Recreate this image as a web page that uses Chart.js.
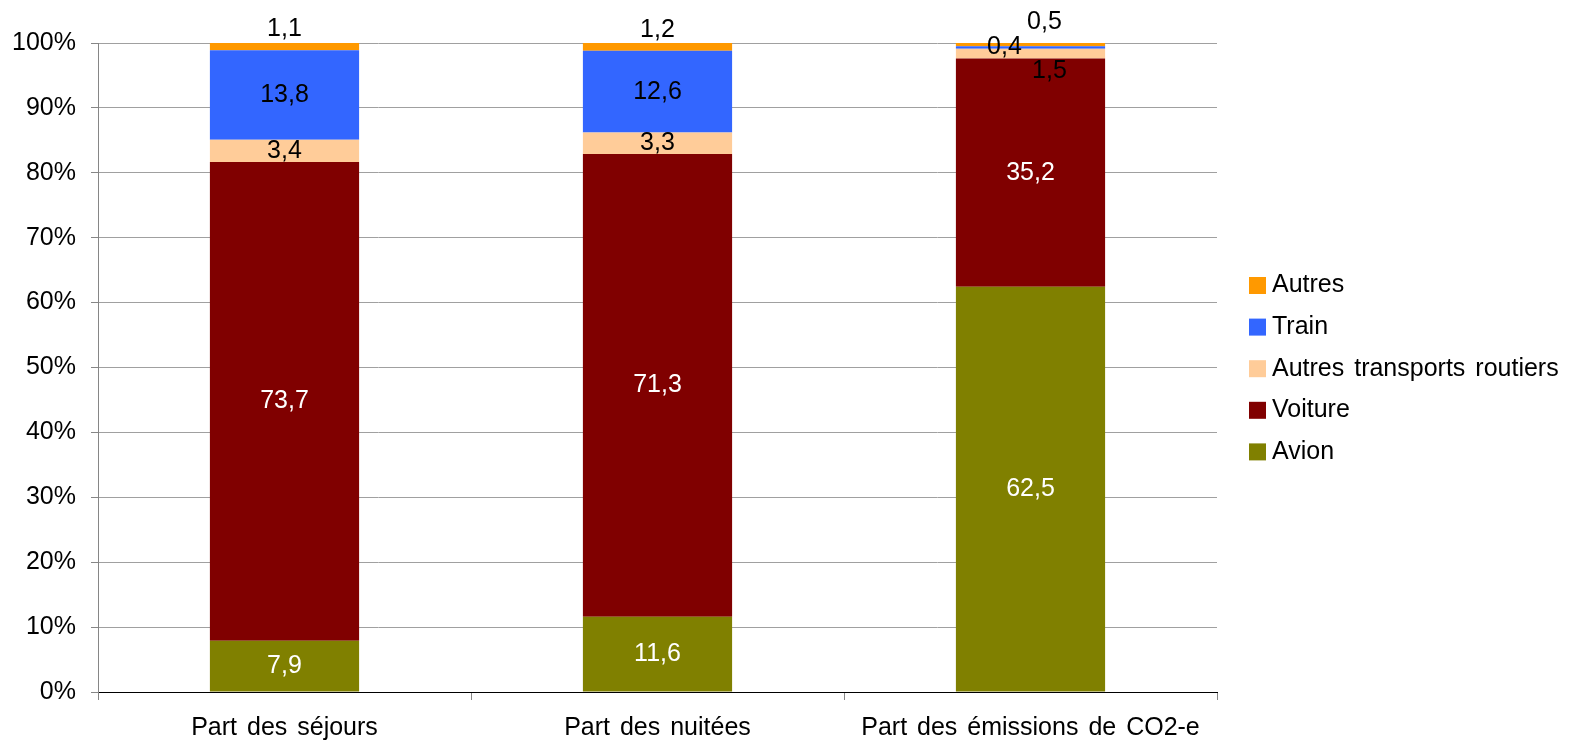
<!DOCTYPE html>
<html lang="fr">
<head>
<meta charset="utf-8">
<title>Répartition modale des séjours, nuitées et émissions</title>
<script src="https://cdn.jsdelivr.net/npm/chart.js@4/dist/chart.umd.min.js"></script>
<style>
  html, body { margin: 0; padding: 0; background: #ffffff; }
  #wrap { width: 1576px; height: 743px; }
</style>
</head>
<body>
<div id="wrap"><canvas id="chart" width="1576" height="743"></canvas></div>
<script>
// Categories and shares (%) per transport mode
const categories = ['Part des séjours', 'Part des nuitées', 'Part des émissions de CO2-e'];
const avion     = [7.9, 11.6, 62.5];
const voiture   = [73.7, 71.3, 35.2];
const autresRoutiers = [3.4, 3.3, 1.5];
const train     = [13.8, 12.6, 0.4];
const autres    = [1.1, 1.2, 0.5];
const yTicks    = [0, 10, 20, 30, 40, 50, 60, 70, 80, 90, 100];

const FONT = '"Liberation Sans", Arial, sans-serif';
const FONT_SIZE = 25;

// Each column is shown as a 100 % stack, so shares are rescaled by their column total
const series = [
  { label: 'Avion', values: avion, color: '#808000', text: '#ffffff' },
  { label: 'Voiture', values: voiture, color: '#800000', text: '#ffffff' },
  { label: 'Autres transports routiers', values: autresRoutiers, color: '#FFCC99', text: '#000000' },
  { label: 'Train', values: train, color: '#3366FF', text: '#000000' },
  { label: 'Autres', values: autres, color: '#FF9900', text: '#000000' }
];
const totals = categories.map((_, i) => series.reduce((s, d) => s + d.values[i], 0));

// Label nudges (px) for the thin segments whose values would otherwise overlap
const labelShift = {
  'Autres': [[0, -17], [0, -17], [14, -23]],
  'Train': [null, null, [-26, 0]],
  'Autres transports routiers': [null, null, [19, 17]]
};

// Slightly wider gaps between words for all canvas text
const textSpacing = {
  id: 'textSpacing',
  beforeDraw(chart) {
    chart.ctx.wordSpacing = '3px';
  }
};

const valueLabels = {
  id: 'valueLabels',
  afterDatasetsDraw(chart) {
    const ctx = chart.ctx;
    ctx.save();
    ctx.font = FONT_SIZE + 'px ' + FONT;
    ctx.textAlign = 'center';
    ctx.textBaseline = 'middle';
    chart.data.datasets.forEach((ds, di) => {
      const meta = chart.getDatasetMeta(di);
      meta.data.forEach((bar, i) => {
        const raw = ds.rawValues[i];
        const cy = (bar.y + bar.base) / 2;
        const shift = (labelShift[ds.label] && labelShift[ds.label][i]) || [0, 0];
        ctx.fillStyle = shift[1] === 0 && shift[0] === 0 ? ds.textColor : '#000000';
        ctx.fillText(raw.toFixed(1).replace('.', ','), bar.x + shift[0], cy + shift[1]);
      });
    });
    ctx.restore();
  }
};

// Legend drawn at the right, top entry = last stacked series
const sideLegend = {
  id: 'sideLegend',
  afterDraw(chart) {
    const ctx = chart.ctx;
    ctx.save();
    ctx.font = FONT_SIZE + 'px ' + FONT;
    ctx.textAlign = 'left';
    ctx.textBaseline = 'middle';
    const items = chart.data.datasets.slice().reverse();
    items.forEach((ds, k) => {
      const top = 277 + k * 41.6;
      ctx.fillStyle = ds.backgroundColor;
      ctx.fillRect(1249, top, 17, 17);
      ctx.fillStyle = '#000000';
      ctx.fillText(ds.label, 1272, top + 8.5);
    });
    ctx.restore();
  }
};

new Chart(document.getElementById('chart'), {
  type: 'bar',
  data: {
    labels: categories,
    datasets: series.map(s => ({
      label: s.label,
      data: s.values.map((v, i) => v / totals[i] * 100),
      rawValues: s.values,
      backgroundColor: s.color,
      textColor: s.text,
      borderWidth: 0,
      categoryPercentage: 1,
      barPercentage: 0.4
    }))
  },
  options: {
    responsive: false,
    animation: false,
    layout: { padding: { top: 43, right: 359, left: 0, bottom: 0 } },
    plugins: {
      legend: { display: false },
      tooltip: { enabled: false }
    },
    scales: {
      x: {
        stacked: true,
        grid: { offset: true, drawOnChartArea: false, tickLength: 8, color: '#868686', lineWidth: 1 },
        border: { color: '#000000', width: 1 },
        ticks: { color: '#000000', font: { family: FONT, size: FONT_SIZE }, padding: 13, maxRotation: 0 },
        afterFit(scale) { scale.height = 51; }
      },
      y: {
        stacked: true,
        min: 0,
        max: 100,
        afterBuildTicks(scale) { scale.ticks = yTicks.map(v => ({ value: v })); },
        grid: { color: '#A0A0A0', lineWidth: 1, tickLength: 7, tickColor: '#868686' },
        border: { color: '#868686', width: 1 },
        ticks: {
          color: '#000000',
          font: { family: FONT, size: FONT_SIZE },
          padding: 15,
          callback: v => v + '%'
        },
        afterFit(scale) { scale.width = 98; }
      }
    }
  },
  plugins: [textSpacing, valueLabels, sideLegend]
});
</script>
</body>
</html>
